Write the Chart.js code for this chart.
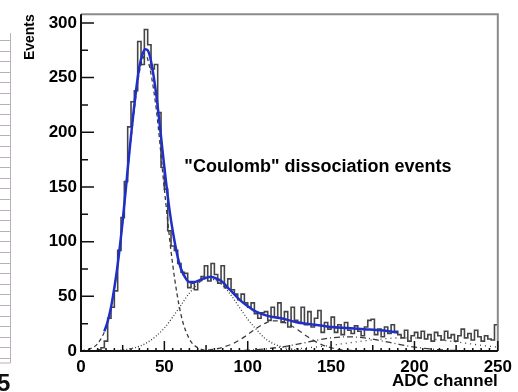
<!DOCTYPE html>
<html>
<head>
<meta charset="UTF-8">
<title>ADC spectrum</title>
<script src="https://cdn.jsdelivr.net/npm/chart.js"></script>
<style>
  body { margin: 0; background: #fff; }
  canvas { display: block; }
</style>
</head>
<body>
<canvas id="chart" width="518" height="392"></canvas>
<script>
// histogram, 2-channel bins starting at 0
const binWidth = 2;
const counts = [
  0, 0, 0, 0, 0, 1, 3, 9, 30, 40,
  55, 92, 122, 155, 205, 228, 238, 283, 262, 294,
  280, 258, 262, 218, 168, 148, 110, 96, 92, 80,
  72, 71, 58, 62, 56, 64, 68, 78, 64, 80,
  70, 62, 78, 58, 66, 56, 52, 47, 52, 44,
  40, 44, 34, 30, 35, 36, 28, 40, 31, 44,
  26, 36, 22, 40, 28, 26, 40, 24, 36, 22,
  30, 37, 17, 26, 20, 31, 17, 24, 15, 26,
  19, 16, 23, 18, 14, 22, 28, 29, 15, 20,
  13, 22, 16, 24, 18, 15, 12, 19, 9, 14,
  17, 12, 18, 11, 15, 9, 17, 14, 10, 18,
  12, 15, 9, 14, 20, 12, 16, 10, 19, 13,
  9, 14, 11, 10, 24
];

// total fit (blue)
const fitX = [14, 16, 18, 20, 22, 25, 28, 30, 33, 35, 37, 38.5, 40, 42, 45, 48, 50, 53, 55, 58,
  60, 63, 65, 68, 70, 73, 75, 78, 80, 83, 85, 88, 90, 95, 100, 105, 110, 115, 120, 125,
  130, 135, 140, 145, 150, 160, 170, 180, 190];
const fitY = [18, 27, 40, 58, 79, 119, 166, 197, 238, 260, 272, 276, 275, 265, 236, 196, 168, 130, 110, 86,
  75, 66, 63, 63, 64, 66, 67, 68, 67, 65, 63, 58, 55, 47, 41, 36, 33, 31, 30, 28,
  26, 25, 24, 23, 22, 21, 20, 19, 17];

// fit components
const peak1X = [0, 5, 10, 15, 20, 25, 30, 35, 38.5, 40, 45, 50, 55, 60, 65, 70, 75, 80];
const peak1Y = [0.3, 1.7, 6.8, 22, 57, 118, 194, 255, 270, 267, 223, 148, 79, 33, 11, 3, 0.6, 0];
const peak2X = [20, 25, 30, 35, 40, 45, 50, 55, 60, 65, 70, 75, 80, 85, 90, 95, 100, 105, 110, 115, 120, 125, 130, 135, 140];
const peak2Y = [0.4, 1, 2.2, 4.3, 8, 13.6, 21, 31, 42, 53, 61, 66, 65, 60, 51, 40, 29, 20, 12, 7, 4, 2, 1, 0.3, 0.1];
const peak3X = [60, 65, 70, 75, 80, 85, 90, 95, 100, 105, 110, 115, 120, 125, 130, 135, 140, 145, 150, 155, 160, 165, 170];
const peak3Y = [0.1, 0.1, 0.2, 0.7, 1.6, 3.4, 6, 10, 15, 20.6, 25, 27.6, 27.2, 24, 19.5, 14, 9.2, 5.4, 2.9, 1.3, 0.7, 0.2, 0.1];
const peak4X = [90, 100, 110, 120, 130, 140, 150, 160, 170, 180, 190, 200, 210, 220, 230, 240, 250];
const peak4Y = [0.2, 0.7, 1.8, 3.6, 6.3, 9.4, 12, 13, 12, 9.4, 6.3, 3.6, 1.8, 0.7, 0.3, 0.1, 0];
const peak5X = [120, 130, 140, 150, 160, 170, 180, 190, 200, 210, 220, 230, 240, 250];
const peak5Y = [1.2, 2.1, 3.5, 5.2, 7.3, 9.3, 10.9, 11.9, 11.9, 10.9, 9.3, 7.3, 5.2, 3.5];

const xTicks = [0, 50, 100, 150, 200, 250];
const yTicks = [0, 50, 100, 150, 200, 250, 300];
const xTitle = 'ADC channel';
const yTitle = 'Events';
const note = '"Coulomb" dissociation events';

const pts = (xs, ys) => xs.map((x, i) => ({ x: x, y: ys[i] }));
const histPts = counts.map((c, i) => ({ x: i * binWidth, y: c }));
histPts.push({ x: counts.length * binWidth, y: counts[counts.length - 1] });

const FONT = 'Liberation Sans, Arial, sans-serif';

// edge of the neighbouring panel, cut off at the left of the picture
const edgePlugin = {
  id: 'edge',
  beforeDraw(chart) {
    const ctx = chart.ctx;
    ctx.save();
    ctx.strokeStyle = '#b8b0b8';
    ctx.lineWidth = 1;
    ctx.beginPath();
    ctx.moveTo(10.5, 33);
    ctx.lineTo(10.5, 363);
    ctx.lineTo(0, 363);
    for (let py = 40; py < 362; py += 10.6) {
      ctx.moveTo(0, Math.round(py) + 0.5);
      ctx.lineTo(10, Math.round(py) + 0.5);
    }
    ctx.stroke();
    ctx.fillStyle = '#111';
    ctx.font = 'bold 24px ' + FONT;
    ctx.textBaseline = 'alphabetic';
    ctx.fillText('5', -3, 391);
    ctx.restore();
  }
};

// ROOT style frame: inward ticks, grey top/right border
const framePlugin = {
  id: 'frame',
  afterDatasetsDraw(chart) {
    const { ctx, chartArea: a, scales } = chart;
    const xs = scales.x, ys = scales.y;
    ctx.save();
    ctx.lineCap = 'butt';
    ctx.strokeStyle = '#8a8a8a';
    ctx.lineWidth = 2;
    ctx.beginPath();
    ctx.moveTo(a.left, a.top);
    ctx.lineTo(a.right, a.top);
    ctx.lineTo(a.right, a.bottom);
    ctx.stroke();

    ctx.strokeStyle = '#111';
    ctx.beginPath();
    ctx.moveTo(a.left, a.top);
    ctx.lineTo(a.left, a.bottom);
    ctx.lineTo(a.right, a.bottom);
    ctx.stroke();

    ctx.lineWidth = 1.5;
    ctx.beginPath();
    for (let v = 0; v <= 300; v += 25) {
      const py = ys.getPixelForValue(v);
      const len = v % 50 === 0 ? 13 : 7;
      ctx.moveTo(a.left, py);
      ctx.lineTo(a.left + len, py);
    }
    for (let v = 0; v <= 250; v += 5) {
      const px = xs.getPixelForValue(v);
      const len = v % 50 === 0 ? 10 : (v % 25 === 0 ? 6 : 3);
      ctx.moveTo(px, a.bottom);
      ctx.lineTo(px, a.bottom - len);
    }
    ctx.stroke();

    // annotation
    ctx.fillStyle = '#000';
    ctx.font = 'bold 18px ' + FONT;
    ctx.textAlign = 'left';
    ctx.textBaseline = 'middle';
    ctx.fillText(note, xs.getPixelForValue(62), ys.getPixelForValue(168));
    ctx.restore();
  }
};

const dotted = { borderColor: '#3a3a3a', borderWidth: 1.3, pointRadius: 0, fill: false, tension: 0.4, cubicInterpolationMode: 'monotone', order: 1 };

new Chart(document.getElementById('chart'), {
  type: 'line',
  data: {
    datasets: [
      { data: pts(fitX, fitY), borderColor: '#1f2fc8', borderWidth: 2.5, pointRadius: 0, fill: false,
        cubicInterpolationMode: 'monotone', order: 0 },
      Object.assign({ data: pts(peak1X, peak1Y), borderDash: [4, 3] }, dotted),
      Object.assign({ data: pts(peak2X, peak2Y), borderDash: [1, 2] }, dotted),
      Object.assign({ data: pts(peak3X, peak3Y), borderDash: [5, 4] }, dotted),
      Object.assign({ data: pts(peak4X, peak4Y), borderDash: [6, 3, 1, 3] }, dotted),
      Object.assign({ data: pts(peak5X, peak5Y), borderDash: [1, 4] }, dotted),
      { data: histPts, stepped: true, borderColor: '#444', borderWidth: 1.6, pointRadius: 0, fill: false, order: 2 }
    ]
  },
  options: {
    responsive: false,
    animation: false,
    events: [],
    layout: { padding: { top: 9, right: 17, left: 0, bottom: 0 } },
    plugins: { legend: { display: false }, tooltip: { enabled: false } },
    scales: {
      x: {
        type: 'linear', min: 0, max: 250,
        afterBuildTicks: s => { s.ticks = xTicks.map(v => ({ value: v })); },
        afterFit: s => { s.height = 41; },
        grid: { display: false, drawTicks: false },
        border: { display: false },
        ticks: { color: '#000', padding: 6, maxRotation: 0, font: { family: FONT, size: 17, weight: 'bold' } },
        title: { display: true, text: xTitle, align: 'end', color: '#000', padding: 0,
          font: { family: FONT, size: 17, weight: 'bold' } }
      },
      y: {
        type: 'linear', min: 0, max: 308,
        afterBuildTicks: s => { s.ticks = yTicks.map(v => ({ value: v })); },
        afterFit: s => { s.width = 81; },
        grid: { display: false, drawTicks: false },
        border: { display: false },
        ticks: { color: '#000', padding: 4, font: { family: FONT, size: 17, weight: 'bold' } },
        title: { display: true, text: yTitle, align: 'end', color: '#000', padding: { top: 22 },
          font: { family: FONT, size: 14, weight: 'bold' } }
      }
    }
  },
  plugins: [edgePlugin, framePlugin]
});
</script>
</body>
</html>
